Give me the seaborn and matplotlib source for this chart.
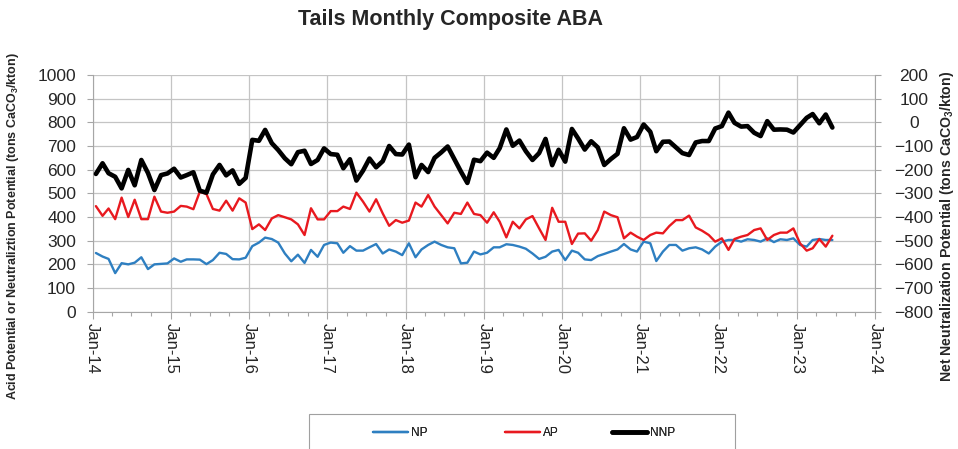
import numpy as np
import pandas as pd
import matplotlib
matplotlib.use("Agg")
import matplotlib.pyplot as plt
import matplotlib.dates as mdates
from matplotlib.patches import Rectangle
import seaborn as sns

# ---------------- data ----------------
start_month = "2014-01-01"
n_months = 114

np_vals = [
    248, 233, 223, 163, 205, 200, 207, 230, 180, 200, 202, 204,
    225, 211, 221, 221, 220, 201, 218, 249, 244, 222, 221, 228,
    277, 292, 313, 307, 292, 246, 213, 241, 206, 261, 232, 282,
    292, 289, 249, 277, 258, 258, 272, 286, 246, 263, 254, 239,
    289, 230, 263, 282, 296, 282, 272, 268, 204, 207, 254, 242,
    249, 272, 272, 285, 282, 275, 266, 246, 223, 232, 254, 261,
    218, 258, 249, 221, 218, 235, 244, 254, 263, 286, 263, 254,
    296, 289, 214, 254, 282, 282, 258, 268, 272, 263, 246, 275,
    296, 303, 303, 296, 306, 303, 296, 310, 294, 306, 303, 310,
    282, 275, 303, 307, 303, 303,
]

ap_vals = [
    446, 405, 436, 391, 482, 400, 473, 391, 391, 486, 423, 418,
    423, 447, 444, 433, 507, 497, 434, 427, 469, 427, 479, 461,
    349, 369, 345, 394, 408, 399, 390, 369, 324, 437, 390, 390,
    425, 425, 444, 434, 503, 465, 423, 475, 415, 363, 387, 376,
    385, 461, 444, 493, 444, 408, 373, 418, 413, 461, 413, 408,
    376, 420, 380, 314, 380, 352, 390, 404, 352, 303, 439, 380,
    380, 286, 330, 331, 300, 345, 423, 408, 399, 310, 334, 317,
    303, 324, 334, 331, 362, 387, 387, 406, 356, 342, 324, 296,
    310, 261, 307, 317, 324, 345, 352, 303, 324, 334, 334, 352,
    289, 258, 268, 307, 275, 321,
]

nnp_vals = [
    -218, -173, -215, -230, -279, -201, -266, -159, -214, -286, -223, -216,
    -196, -233, -223, -211, -289, -297, -220, -180, -224, -203, -260, -235,
    -74, -78, -32, -88, -117, -152, -177, -126, -120, -176, -159, -110,
    -134, -137, -194, -156, -246, -204, -153, -190, -164, -100, -134, -136,
    -94, -232, -180, -210, -150, -127, -102, -155, -208, -256, -158, -164,
    -128, -150, -109, -30, -99, -77, -122, -159, -130, -70, -181, -116,
    -166, -28, -68, -115, -80, -106, -180, -155, -133, -25, -73, -62,
    -9, -40, -122, -82, -81, -106, -130, -138, -85, -79, -79, -26,
    -16, 41, -2, -18, -16, -44, -58, 5, -31, -30, -31, -43,
    -12, 19, 35, -4, 33, -22,
]

series_names = ["NP", "AP", "NNP"]
series_colors = ["#2E7FC1", "#E8191F", "#000000"]

left_ticks = list(range(0, 1001, 100))
right_ticks = list(range(-800, 201, 100))

title = "Tails Monthly Composite ABA"
left_label = r"Acid Potential or Neutraliztion Potential (tons CaCO$_\mathbf{3}$/kton)"
right_label = r"Net Neutralization Potential (tons CaCO$_\mathbf{3}$/kton)"

# ---------------- frame ----------------
dates = pd.date_range(start_month, periods=n_months, freq="MS") + pd.Timedelta(days=15)
df = pd.DataFrame({"date": dates, "NP": np_vals, "AP": ap_vals, "NNP": nnp_vals})

sns.set_style("white")
plt.rcParams["font.family"] = ["Liberation Sans", "DejaVu Sans"]
plt.rcParams["mathtext.fontset"] = "custom"
plt.rcParams["mathtext.rm"] = "Liberation Sans"
plt.rcParams["mathtext.bf"] = "Liberation Sans:bold"

W, H = 958, 449
fig = plt.figure(figsize=(W / 100, H / 100), dpi=100)
x0, x1 = 92.7, 875.0
y_top, y_bot = 75.0, 311.7
ax = fig.add_axes([x0 / W, 1 - y_bot / H, (x1 - x0) / W, (y_bot - y_top) / H])
ax2 = ax.twinx()

grid_c = "#C4C4C4"
axis_c = "#A6A6A6"

sns.lineplot(data=df, x="date", y="NP", ax=ax, color=series_colors[0], lw=1.7, label="NP", legend=False)
sns.lineplot(data=df, x="date", y="AP", ax=ax, color=series_colors[1], lw=1.7, label="AP", legend=False)
sns.lineplot(data=df, x="date", y="NNP", ax=ax2, color=series_colors[2], lw=3.3, label="NNP", legend=False)

ax.set_ylim(0, 1000)
ax2.set_ylim(-800, 200)
ax.set_yticks(left_ticks)
ax2.set_yticks(right_ticks)
ax.set_xlim(pd.Timestamp("2014-01-01"), pd.Timestamp("2024-01-01"))

ax.xaxis.set_major_locator(mdates.YearLocator())
ax.xaxis.set_major_formatter(mdates.DateFormatter("%b-%y"))
ax.xaxis.set_minor_locator(mdates.MonthLocator(bymonth=[4, 7, 10]))

ax.grid(True, which="major", axis="both", color=grid_c, lw=0.9)
ax.set_axisbelow(True)
ax2.grid(False)

for a in (ax, ax2):
    for s in a.spines.values():
        s.set_visible(False)
ax.spines["left"].set_visible(True)
ax.spines["left"].set_color(axis_c)
ax.spines["bottom"].set_visible(True)
ax.spines["bottom"].set_color(axis_c)
ax2.spines["right"].set_visible(True)
ax2.spines["right"].set_color(axis_c)

ax.tick_params(axis="y", which="major", direction="out", length=4, width=0.8,
               color=axis_c, labelsize=12.5, pad=8, left=True)
ax.tick_params(axis="x", which="major", direction="out", length=5, width=0.8,
               color=axis_c, labelsize=12, pad=3, bottom=True, labelrotation=-90)
ax.tick_params(axis="x", which="minor", direction="out", length=3, width=0.8,
               color=axis_c, bottom=True)
ax2.tick_params(axis="y", which="major", direction="out", length=4, width=0.8,
                color=axis_c, labelsize=12.5, pad=24, right=True)
for lab in ax2.get_yticklabels():
    lab.set_horizontalalignment("center")
for lab in ax.get_xticklabels():
    lab.set_verticalalignment("top")
    lab.set_horizontalalignment("center")

ax.set_xlabel("")
ax.set_ylabel("")
ax2.set_ylabel("")

fig.text(450 / W, 1 - 19 / H, title, ha="center", va="center", fontsize=15.5, fontweight="bold")
fig.text(13 / W, 1 - 226 / H, left_label, ha="center", va="center", rotation=90,
         fontsize=9, fontweight="bold")
fig.text(947 / W, 1 - 226 / H, right_label, ha="center", va="center", rotation=90,
         fontsize=10.2, fontweight="bold")

# legend box (extends below the figure edge, as in the reference)
fig.add_artist(Rectangle((309 / W, 1 - 470 / H), 426 / W, 56 / H, transform=fig.transFigure,
                         fill=False, edgecolor="#A0A0A0", lw=0.8))
h1, l1 = ax.get_legend_handles_labels()
h2, l2 = ax2.get_legend_handles_labels()
handles = h1 + h2
labels = l1 + l2
leg_x = [373, 505, 612]
for hnd, lbl, lx in zip(handles, labels, leg_x):
    lg = fig.legend([hnd], [lbl], loc="center left", bbox_to_anchor=(lx / W, 1 - 433 / H),
                    frameon=False, fontsize=8.5, handlelength=3.0, handletextpad=0.2,
                    borderaxespad=0, borderpad=0)
    fig.add_artist(lg)

fig.savefig("out.png", dpi=100)
